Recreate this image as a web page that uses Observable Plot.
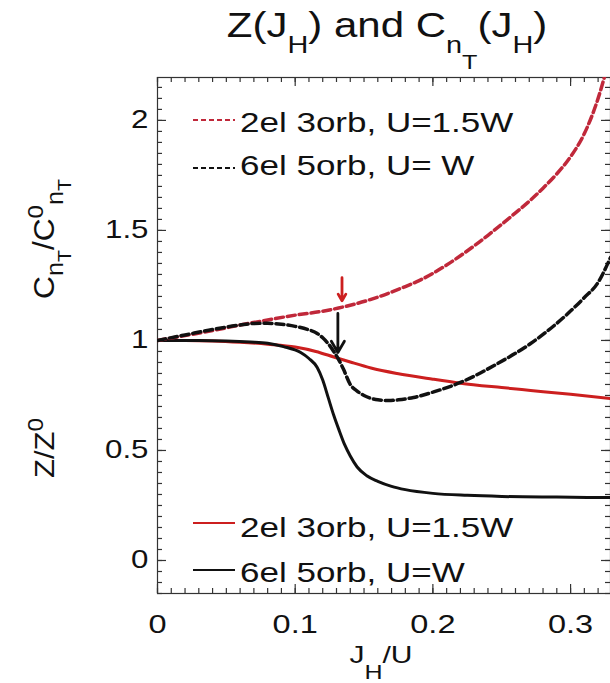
<!DOCTYPE html>
<html><head><meta charset="utf-8">
<script src="https://cdn.jsdelivr.net/npm/d3@7"></script>
<script src="https://cdn.jsdelivr.net/npm/@observablehq/plot@0.6"></script>
<style>
body{margin:0;background:#fff;font-family:"Liberation Sans",Arial,Helvetica,sans-serif;}
#wrap{position:relative;width:610px;height:683px;overflow:hidden;background:#fff;}
#title{position:absolute;top:7px;left:387px;white-space:nowrap;font-size:35px;line-height:35px;color:#111;transform:translateX(-50%) scaleX(1.2);}
#title .s1{position:relative;top:16px;font-size:24px;}
#title .s2{position:relative;top:16px;font-size:21px;}
#chart{position:absolute;top:70px;left:0;}
</style></head><body>
<div id="wrap">
<div id="title">Z(J<span class="s1">H</span>) and C<span class="s1">n<span class="s2">T</span></span>(J<span class="s1">H</span>)</div>
<div id="chart"></div>
</div>
<script>
// ---- data ----
const cn2elX = [0,0.02,0.04,0.06,0.08,0.10,0.12,0.14,0.16,0.18,0.19,0.20,0.21,0.22,0.23,0.24,0.25,0.26,0.27,0.28,0.29,0.30,0.31,0.32,0.329];
const cn2elY = [1.0,1.022,1.045,1.07,1.093,1.115,1.133,1.16,1.197,1.245,1.272,1.305,1.343,1.385,1.43,1.478,1.528,1.58,1.633,1.692,1.757,1.835,1.94,2.10,2.30];

const cn6elX = [0,0.02,0.04,0.06,0.07,0.08,0.09,0.10,0.11,0.116,0.12,0.124,0.128,0.131,0.135,0.14,0.145,0.15,0.155,0.16,0.168,0.175,0.186,0.20,0.22,0.247,0.271,0.295,0.31,0.3195,0.329];
const cn6elY = [1.0,1.025,1.05,1.07,1.077,1.078,1.074,1.064,1.048,1.032,1.012,0.985,0.95,0.92,0.87,0.80,0.77,0.75,0.737,0.73,0.727,0.73,0.741,0.765,0.809,0.895,0.986,1.105,1.195,1.259,1.377];

const z2elX = [0,0.02,0.04,0.06,0.08,0.10,0.115,0.128,0.14,0.155,0.174,0.20,0.22,0.25,0.271,0.30,0.329];
const z2elY = [1.0,1.0,0.998,0.992,0.983,0.97,0.95,0.925,0.902,0.875,0.85,0.824,0.806,0.786,0.773,0.755,0.736];

const z6elX = [0,0.03,0.05,0.0675,0.08,0.0915,0.104,0.11,0.116,0.12,0.124,0.128,0.132,0.136,0.14,0.145,0.152,0.16,0.17,0.18,0.20,0.225,0.25,0.29,0.329];
const z6elY = [1.0,1.0,0.998,0.993,0.987,0.972,0.945,0.918,0.877,0.82,0.74,0.66,0.59,0.525,0.475,0.425,0.385,0.36,0.337,0.322,0.305,0.296,0.291,0.288,0.286];

const arrowX  = [0.134, 0.131];
const arrowY1 = [1.285, 1.123];
const arrowY2 = [1.18, 0.945];
const arrowColor = ["#cc1f1f", "#111111"];

const xTicks = [0, 0.1, 0.2, 0.3];
const yTicks = [0, 0.5, 1, 1.5, 2];
const legendTop = ["2el 3orb, U=1.5W", "6el 5orb, U= W"];
const legendBottom = ["2el 3orb, U=1.5W", "6el 5orb, U=W"];

// ---- build table ----
const seriesDefs = [
  {key:"cn2", xs:cn2elX, ys:cn2elY},
  {key:"cn6", xs:cn6elX, ys:cn6elY},
  {key:"z2",  xs:z2elX,  ys:z2elY},
  {key:"z6",  xs:z6elX,  ys:z6elY}
];
const rows = seriesDefs.flatMap(s => s.xs.map((x,i) => ({key:s.key, x, y:s.ys[i]})));
const sel = k => rows.filter(r => r.key === k);
const arrows = arrowX.map((x,i) => ({x, y1:arrowY1[i], y2:arrowY2[i], c:arrowColor[i]}));

const W = 610, H = 613, mL = 157, mR = 0, mT = 7, mB = 90;
const pW = W - mL - mR, pH = H - mT - mB;
const xDom = [0, 0.329], yDom = [-0.15, 2.195];
const kx = (xDom[1] - xDom[0]) / pW, ky = (yDom[1] - yDom[0]) / pH; // data units per pixel
const xMinor = d3.range(0, 0.33, 0.01);
const yMinor = d3.range(-0.15, 2.2, 0.05);
const tickCol = "#333";
const FONT = '"Liberation Sans",Arial,Helvetica,sans-serif';

const tickMarks = [];
[[xMinor, 5], [xTicks, 9]].forEach(([vals, len]) => {
  tickMarks.push(Plot.ruleX(vals, {x: d => d, y1: yDom[0], y2: yDom[0] + len * ky, stroke: tickCol, strokeWidth: 1.2}));
  tickMarks.push(Plot.ruleX(vals, {x: d => d, y1: yDom[1], y2: yDom[1] - len * ky, stroke: tickCol, strokeWidth: 1.2}));
});
[[yMinor, 5], [yTicks, 9]].forEach(([vals, len]) => {
  tickMarks.push(Plot.ruleY(vals, {y: d => d, x1: xDom[0], x2: xDom[0] + len * kx, stroke: tickCol, strokeWidth: 1.2}));
  tickMarks.push(Plot.ruleY(vals, {y: d => d, x1: xDom[1], x2: xDom[1] - len * kx, stroke: tickCol, strokeWidth: 1.2}));
});

const chart = Plot.plot({
  width: W, height: H,
  marginLeft: mL, marginRight: mR, marginTop: mT, marginBottom: mB,
  x: {domain: xDom},
  y: {domain: yDom},
  style: {fontFamily: FONT, background: "white", color: "#111"},
  marks: [
    ...tickMarks,
    Plot.axisX(xTicks, {tickSize: 0, tickPadding: 21, fontSize: 26, label: null, tickFormat: d => String(d)}),
    Plot.axisY(yTicks, {tickSize: 0, tickPadding: 9, fontSize: 25, label: null, tickFormat: d => String(d)}),
    Plot.frame({stroke: tickCol, strokeWidth: 1.2}),
    // curves
    Plot.line(sel("z2"), {x: "x", y: "y", stroke: "#cc1f1f", strokeWidth: 3, curve: "monotone-x", clip: true}),
    Plot.line(sel("z6"), {x: "x", y: "y", stroke: "#111", strokeWidth: 3, curve: "monotone-x", clip: true}),
    Plot.line(sel("cn2"), {x: "x", y: "y", stroke: "#c0283a", strokeWidth: 3.5, strokeDasharray: "8,4", curve: "monotone-x", clip: true}),
    Plot.line(sel("cn6"), {x: "x", y: "y", stroke: "#111", strokeWidth: 3.5, strokeDasharray: "8,4", curve: "monotone-x", clip: true}),
    // arrows
    Plot.arrow(arrows, {x1: "x", x2: "x", y1: "y1", y2: "y2", stroke: "c", strokeWidth: 2.8, headLength: 14})
  ]
});
document.getElementById("chart").appendChild(chart);

const svg = d3.select(chart);

// legends (inside plot area)
const lg = svg.append("g").attr("font-family", FONT).attr("font-size", 28).attr("fill", "#111").attr("text-anchor", "start");
const legendRows = [
  {y: 50,  tb: 62,  col: "#c0283a", dash: "5,3", text: legendTop[0]},
  {y: 98,  tb: 105, col: "#111",    dash: "5,3", text: legendTop[1]},
  {y: 453, tb: 467, col: "#cc1f1f", dash: null,  text: legendBottom[0]},
  {y: 500, tb: 512, col: "#111",    dash: null,  text: legendBottom[1]}
];
legendRows.forEach(r => {
  lg.append("line").attr("x1", 193).attr("x2", 235).attr("y1", r.y).attr("y2", r.y)
    .attr("stroke", r.col).attr("stroke-width", 2.2).attr("stroke-dasharray", r.dash);
  lg.append("text").attr("class", "stretch").attr("text-anchor", "start").attr("x", 240).attr("y", r.tb).text(r.text);
});

// y-axis labels (rotated) with sub/superscripts
function yLabel(cy, fs, len, parts) {
  const t = svg.append("text").attr("font-family", FONT).attr("font-size", fs).attr("fill", "#111")
    .attr("text-anchor", "middle").attr("transform", `translate(54,${cy}) rotate(-90)`)
    .attr("textLength", len).attr("lengthAdjust", "spacingAndGlyphs");
  parts.forEach(p => t.append("tspan").attr("dy", p.dy || 0).attr("font-size", p.fs || fs).text(p.t));
}
yLabel(169, 29, 120, [
  {t: "C"}, {t: "n", dy: 9, fs: 23}, {t: "T", dy: 8, fs: 18}, {t: "/C", dy: -17},
  {t: "0", dy: -11, fs: 22}, {t: "n", dy: 20, fs: 23}, {t: "T", dy: 8, fs: 18}
]);
yLabel(378, 28, 60, [{t: "Z/Z"}, {t: "0", dy: -11, fs: 22}]);

// x-axis label
const xl = svg.append("text").attr("class", "stretch").attr("font-family", FONT).attr("font-size", 24).attr("fill", "#111")
  .attr("text-anchor", "middle").attr("x", 381).attr("y", 593);
xl.append("tspan").text("J");
xl.append("tspan").attr("dy", 16).attr("font-size", 20).text("H");
xl.append("tspan").attr("dy", -16).text("/U");

// the reference text is horizontally widened: stretch horizontal texts
svg.selectAll('g[aria-label="x-axis tick label"] text, g[aria-label="y-axis tick label"] text, text.stretch').each(function() {
  const len = this.getComputedTextLength();
  this.setAttribute("textLength", (len * 1.25).toFixed(1));
  this.setAttribute("lengthAdjust", "spacingAndGlyphs");
});
</script>
</body></html>
